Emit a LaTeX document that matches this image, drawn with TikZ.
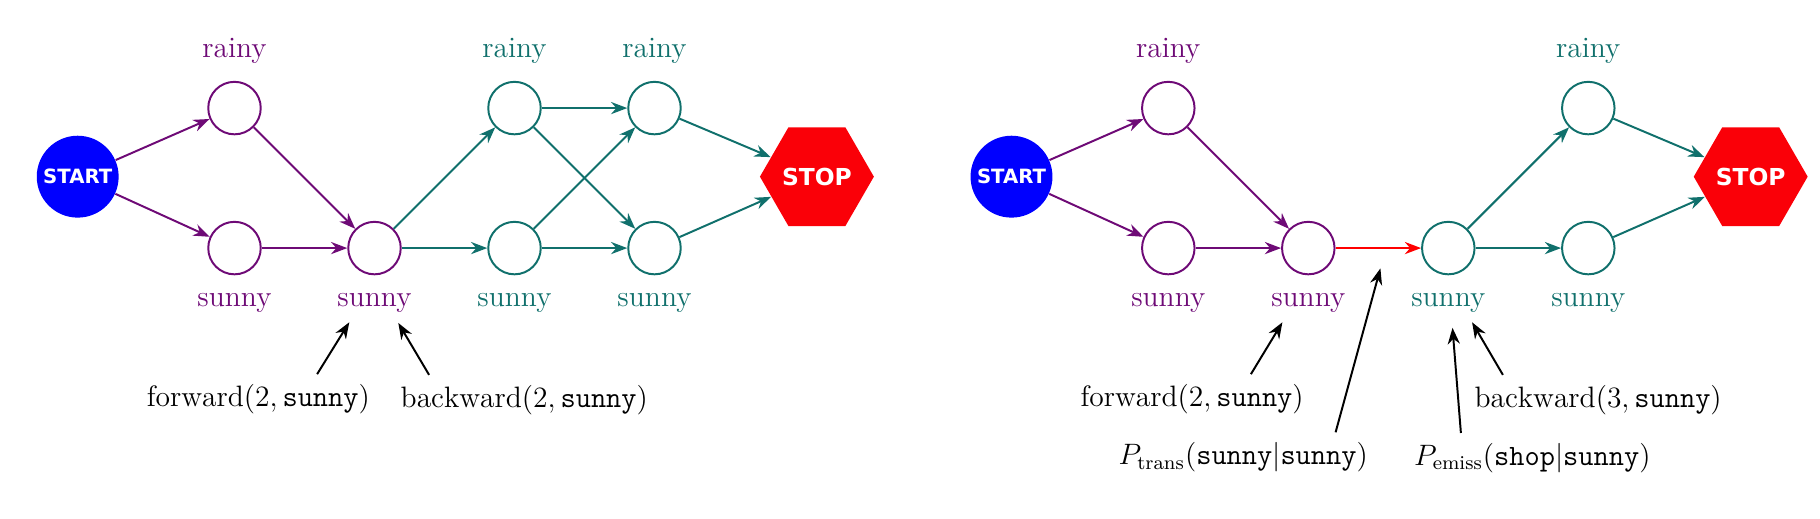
\documentclass[12pt,tikz,border=0pt]{standalone}
\usepackage{amsmath}
\usepackage{fontspec}
\newfontfamily\signfont{DejaVu Sans}
\usetikzlibrary{calc,arrows.meta,shapes.geometric}
\definecolor{hmmpurple}{RGB}{110,10,118}
\definecolor{hmmteal}{RGB}{16,112,108}
\definecolor{stopred}{RGB}{250,0,8}
\tikzset{
  early/.style={hmmpurple},
  late/.style={hmmteal},
  state/.style={circle,draw,thick,minimum size=7.5mm,inner sep=0pt},
  edge/.style={thick,-{Stealth}},
  pointer/.style={thick,black,-{Stealth}},
  startnode/.style={circle,fill=blue,minimum size=1.17cm,inner sep=1pt,text=white,
    font=\signfont\bfseries\fontsize{8}{9}\selectfont},
  stopnode/.style={regular polygon,regular polygon sides=6,minimum size=1.46cm,
    inner sep=0pt,fill=stopred,text=white,font=\signfont\bfseries\fontsize{9.5}{11}\selectfont},
}
\tikzset{trellis/.pic={code={%

      % both ends and the first two columns
      \node [startnode] (start) at (-2.24,1.02) {START};
      \node [stopnode] (stop) at (8.32,1.02) {STOP};
      \node [state,early,label={[early]above:rainy}] (r1) at (0,2) {};
      \node [state,early,label={[early]below:sunny}] (s1) at (0,0) {};
      \node [state,early,label={[early]below:sunny}] (s2) at (2,0) {};

      % transitions
      \draw [edge,early] (start) -- (r1);
      \draw [edge,early] (start) -- (s1);
      \draw [edge,early] (r1) -- (s2);
      \draw [edge,early] (s1) -- (s2);

}}}
\begin{document}
\begin{tikzpicture}[label distance=3pt]
    \useasboundingbox (0,0) rectangle (26,7.414);

    % left trellis
    \path (3.35,3.87) pic (l-) {trellis};
    \node [state,late,label={[late]above:rainy}] (l-r3) at (7.35,5.87) {};
    \node [state,late,label={[late]below:sunny}] (l-s3) at (7.35,3.87) {};
    \node [state,late,label={[late]above:rainy}] (l-r4) at (9.35,5.87) {};
    \node [state,late,label={[late]below:sunny}] (l-s4) at (9.35,3.87) {};
    \draw [edge,late] (l-s2) -- (l-r3);
    \draw [edge,late] (l-s2) -- (l-s3);
    \draw [edge,late] (l-r3) -- (l-r4);
    \draw [edge,late] (l-r3) -- (l-s4);
    \draw [edge,late] (l-s3) -- (l-r4);
    \draw [edge,late] (l-s3) -- (l-s4);
    \draw [edge,late] (l-r4) -- (l-stop);
    \draw [edge,late] (l-s4) -- (l-stop);

    % left notes
    \node (l-fwd) at (3.69,1.71) {$\mathrm{forward}(2, \mathtt{sunny})$};
    \node (l-bwd) at (7.49,1.70) {$\mathrm{backward}(2, \mathtt{sunny})$};
    \coordinate (l-fwdtip) at (4.99,2.81);
    \coordinate (l-bwdtip) at (5.69,2.80);
    \draw [pointer] ([xshift=0.84cm]l-fwd.north) -- (l-fwdtip);
    \draw [pointer] ([xshift=-1.36cm]l-bwd.north) -- (l-bwdtip);

    % right trellis
    \path (16.69,3.87) pic (r-) {trellis};
    \node [state,late,label={[late]below:sunny}] (r-s3) at (20.69,3.87) {};
    \node [state,late,label={[late]above:rainy}] (r-r4) at (22.69,5.87) {};
    \node [state,late,label={[late]below:sunny}] (r-s4) at (22.69,3.87) {};
    \draw [edge,red] (r-s2) -- (r-s3);
    \draw [edge,late] (r-s3) -- (r-r4);
    \draw [edge,late] (r-s3) -- (r-s4);
    \draw [edge,late] (r-r4) -- (r-stop);
    \draw [edge,late] (r-s4) -- (r-stop);

    % right notes
    \node (r-fwd) at (17.03,1.71) {$\mathrm{forward}(2, \mathtt{sunny})$};
    \node (r-bwd) at (22.83,1.70) {$\mathrm{backward}(3, \mathtt{sunny})$};
    \node (r-trans) at (17.76,0.88) {$P_{\mathrm{trans}}(\mathtt{sunny}|\mathtt{sunny})$};
    \node (r-emiss) at (21.89,0.87) {$P_{\mathrm{emiss}}(\mathtt{shop}|\mathtt{sunny})$};
    \coordinate (r-fwdtip) at (18.32,2.81);
    \coordinate (r-bwdtip) at (21.03,2.81);
    \coordinate (r-transtip) at ($(r-s2)!0.5!(r-s3)+(0.03,-0.29)$);
    \coordinate (r-emisstip) at (20.75,2.73);
    \draw [pointer] ([xshift=0.84cm]r-fwd.north) -- (r-fwdtip);
    \draw [pointer] ([xshift=-1.36cm]r-bwd.north) -- (r-bwdtip);
    \draw [pointer] ([xshift=1.32cm]r-trans.north) -- (r-transtip);
    \draw [pointer] ([xshift=-1.02cm]r-emiss.north) -- (r-emisstip);
\end{tikzpicture}
\end{document}
